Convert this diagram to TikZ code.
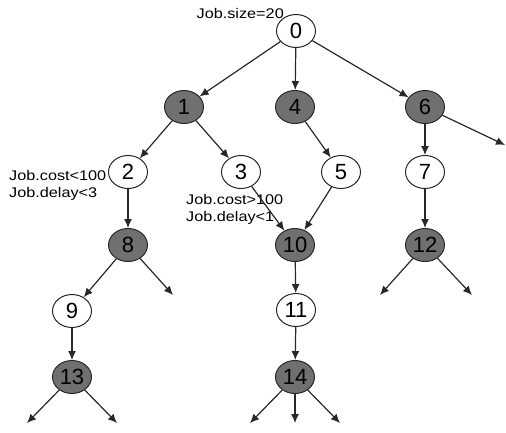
\documentclass[tikz,border=0pt]{standalone}
\usepackage{fontspec}
\setmainfont{Liberation Sans}
\usetikzlibrary{shapes.geometric,arrows.meta}
\definecolor{nodegray}{RGB}{112,112,112}
\definecolor{linecol}{RGB}{40,40,40}
\tikzset{
  vtx/.style={ellipse,draw=linecol,line width=1pt,minimum width=39pt,minimum height=33pt,inner sep=0pt,font=\fontsize{22}{22}\selectfont},
  wvtx/.style={vtx,fill=white},
  gvtx/.style={vtx,fill=nodegray},
  edge/.style={draw=linecol,line width=1.2pt,-{Latex[length=9pt,width=8pt]}},
  lbl/.style={inner sep=0pt,font=\fontsize{14}{17}\selectfont,align=left}
}
\newcommand{\wide}[1]{\scalebox{1.16}[1]{#1}}
\begin{document}
\begin{tikzpicture}[x=1pt,y=-1pt]
\useasboundingbox (0,0) rectangle (506,432);
\node[wvtx] (n0) at (296,31) {0};
\node[gvtx] (n1) at (184,107) {1};
\node[gvtx] (n4) at (295,107) {4};
\node[gvtx] (n6) at (425,107) {6};
\node[wvtx] (n2) at (128,172) {2};
\node[wvtx] (n3) at (241,172) {3};
\node[wvtx] (n5) at (341,172) {5};
\node[wvtx] (n7) at (425,172) {7};
\node[gvtx] (n8) at (128,245) {8};
\node[gvtx] (n10) at (295,245) {10};
\node[gvtx] (n12) at (425,245) {12};
\node[wvtx] (n9) at (72,311) {9};
\node[wvtx] (n11) at (296,310) {11};
\node[gvtx] (n13) at (72,377) {13};
\node[gvtx] (n14) at (295,377) {14};

\coordinate (e6) at (505,145);
\coordinate (e8) at (173,295);
\coordinate (e12a) at (380,295);
\coordinate (e12b) at (472,295);
\coordinate (e13a) at (27,423);
\coordinate (e13b) at (117,423);
\coordinate (e14a) at (250,423);
\coordinate (e14b) at (295,423);
\coordinate (e14c) at (340,423);

\path[edge] (n0) -- (n1);
\path[edge] (n0) -- (n4);
\path[edge] (n0) -- (n6);
\path[edge] (n1) -- (n2);
\path[edge] (n1) -- (n3);
\path[edge] (n4) -- (n5);
\path[edge] (n6) -- (n7);
\path[edge] (n6) -- (e6);
\path[edge] (n2) -- (n8);
\path[edge] (n5) -- (n10);
\path[edge] (n7) -- (n12);
\path[edge] (n8) -- (n9);
\path[edge] (n8) -- (e8);
\path[edge] (n10) -- (n11);
\path[edge] (n12) -- (e12a);
\path[edge] (n12) -- (e12b);
\path[edge] (n9) -- (n13);
\path[edge] (n11) -- (n14);
\path[edge] (n13) -- (e13a);
\path[edge] (n13) -- (e13b);
\path[edge] (n14) -- (e14a);
\path[edge] (n14) -- (e14b);
\path[edge] (n14) -- (e14c);

\node[lbl,anchor=east] (l0) at (284,13) {\wide{Job.size=20}};
\node[lbl,anchor=west] (l2) at (9,185) {\wide{Job.cost<100}\\\wide{Job.delay<3}};
\node[lbl,anchor=west] (l3) at (186,209) {\wide{Job.cost>100}\\\wide{Job.delay<1}};
\path[edge] (n3) -- (n10);
\end{tikzpicture}
\end{document}
